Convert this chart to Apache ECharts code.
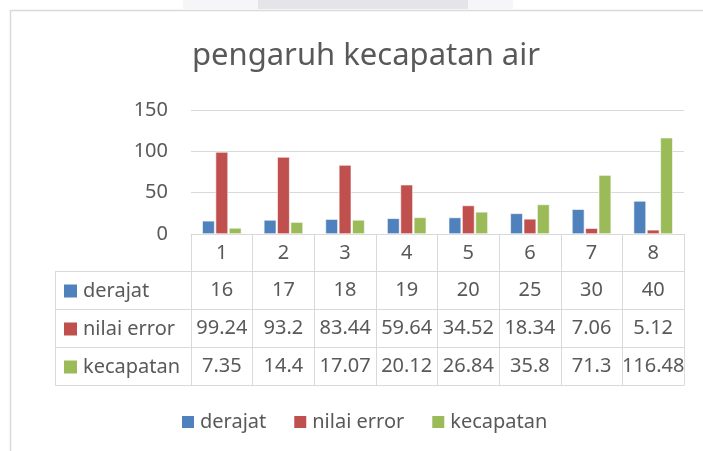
<!DOCTYPE html>
<html>
<head>
<meta charset="utf-8">
<script src="https://cdn.jsdelivr.net/npm/echarts@6/dist/echarts.min.js"></script>
<style>
  html, body { margin: 0; padding: 0; background: #fff; }
  #chart { width: 703px; height: 451px; }
</style>
</head>
<body>
<div id="chart"></div>
<script>
  // data
  const categories = ['1', '2', '3', '4', '5', '6', '7', '8']
  const derajat = [16, 17, 18, 19, 20, 25, 30, 40]
  const nilaiError = [99.24, 93.2, 83.44, 59.64, 34.52, 18.34, 7.06, 5.12]
  const kecapatan = [7.35, 14.4, 17.07, 20.12, 26.84, 35.8, 71.3, 116.48]
  const seriesNames = ['derajat', 'nilai error', 'kecapatan']
  const seriesData = [derajat, nilaiError, kecapatan]
  const colors = ['#4f81bd', '#c0504d', '#9bbb59']

  const font = 'Noto Sans'
  const textColor = '#595959'
  const lineColor = '#d9d9d9'

  // layout of the plot + data table under it
  const gridLeft = 191
  const gridRight = 19
  const gridTop = 110
  const axisY = 234
  const tableLeft = 55
  const rowOffsets = [0, 37, 75, 113, 151]

  const myChart = echarts.init(document.getElementById('chart'))

  // one x axis per table row, stacked downwards with offset
  const xAxes = [{
    type: 'category',
    data: categories,
    position: 'bottom',
    offset: 0,
    axisLine: {lineStyle: {color: lineColor}},
    axisTick: {show: true, interval: 0, length: rowOffsets[1], lineStyle: {color: lineColor}},
    axisLabel: {interval: 0, margin: 9, fontSize: 20, fontFamily: font, color: textColor}
  }]
  seriesData.forEach(function (vals, k) {
    const h = rowOffsets[k + 2] - rowOffsets[k + 1]
    xAxes.push({
      type: 'category',
      data: categories,
      position: 'bottom',
      offset: rowOffsets[k + 1],
      axisLine: {lineStyle: {color: lineColor}},
      axisTick: {show: true, interval: 0, length: h, lineStyle: {color: lineColor}},
      axisLabel: {
        interval: 0,
        margin: (h - 20) / 2,
        fontSize: 20,
        fontFamily: font,
        color: textColor,
        formatter: function (v, i) { return String(vals[i]) }
      },
      name: '{m|}{t|' + seriesNames[k] + '}',
      nameLocation: 'start',
      nameGap: gridLeft - 64,
      nameTextStyle: {
        align: 'left',
        verticalAlign: 'top',
        padding: [(h - 22) / 2 + 2, 0, 0, 0],
        rich: {
          m: {width: 13, height: 13, backgroundColor: colors[k]},
          t: {fontSize: 20, fontFamily: font, color: textColor, padding: [0, 0, 0, 6]}
        }
      }
    })
  })
  // bottom border of the table
  xAxes.push({
    type: 'category',
    data: categories,
    position: 'bottom',
    offset: rowOffsets[4],
    axisLine: {lineStyle: {color: lineColor}},
    axisTick: {show: false},
    axisLabel: {show: false}
  })

  // left part of the table (row header column)
  const tableLines = []
  for (let r = 1; r < rowOffsets.length; r++) {
    const y = axisY + rowOffsets[r] + 0.5
    tableLines.push({type: 'line', shape: {x1: tableLeft, y1: y, x2: gridLeft, y2: y}, style: {stroke: lineColor, lineWidth: 1}})
  }
  tableLines.push({
    type: 'line',
    shape: {x1: tableLeft + 0.5, y1: axisY + rowOffsets[1], x2: tableLeft + 0.5, y2: axisY + rowOffsets[4] + 1},
    style: {stroke: lineColor, lineWidth: 1}
  })

  const option = {
    animation: false,
    textStyle: {fontFamily: font},
    title: {
      text: 'pengaruh kecapatan air',
      left: 361,
      textAlign: 'center',
      top: 36,
      textStyle: {fontSize: 31, fontWeight: 'normal', fontFamily: font, color: textColor}
    },
    legend: {
      data: seriesNames,
      left: 180,
      top: 412,
      padding: 0,
      itemWidth: 14,
      itemHeight: 14,
      itemGap: 26,
      icon: 'rect',
      textStyle: {fontSize: 20, fontFamily: font, color: textColor}
    },
    grid: {
      left: gridLeft,
      right: gridRight,
      top: gridTop,
      bottom: 451 - axisY,
      containLabel: false,
      outerBoundsMode: 'none'
    },
    xAxis: xAxes,
    yAxis: {
      type: 'value',
      min: 0,
      max: 150,
      interval: 50,
      axisLine: {show: false},
      axisTick: {show: false},
      axisLabel: {margin: 23, fontSize: 20, fontFamily: font, color: textColor},
      splitLine: {lineStyle: {color: lineColor, width: 1}}
    },
    graphic: [
      {type: 'rect', shape: {x: 183, y: 0, width: 330, height: 9}, style: {fill: '#f6f6f8'}, silent: true},
      {type: 'rect', shape: {x: 258, y: 0, width: 210, height: 9}, style: {fill: '#e5e5e9'}, silent: true},
      {type: 'rect', shape: {x: 10.5, y: 10.5, width: 800, height: 500}, style: {fill: 'none', stroke: lineColor, lineWidth: 1.5}, silent: true}
    ].concat(tableLines),
    series: seriesData.map(function (vals, k) {
      return {
        name: seriesNames[k],
        type: 'bar',
        xAxisIndex: 0,
        data: vals,
        barWidth: 12.5,
        barGap: '7%',
        itemStyle: {color: colors[k], borderColor: '#ffffff', borderWidth: 0.6}
      }
    })
  }
  myChart.setOption(option)
</script>
</body>
</html>
